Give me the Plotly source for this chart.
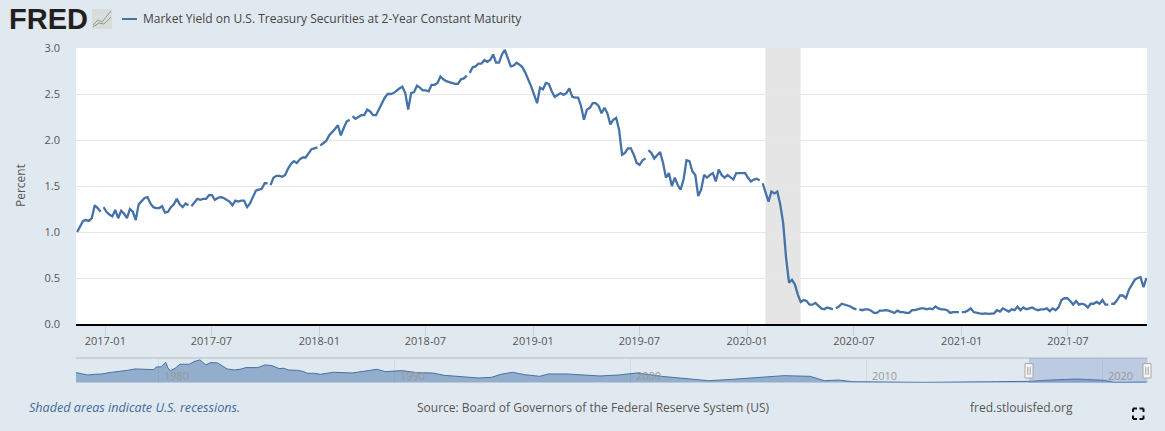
import pandas as pd
import plotly.graph_objects as go

W, H = 1165, 431
BG = "#e1e9f0"
BLUE = "#4572a7"
FONT = "Open Sans"

series_name = "Market Yield on U.S. Treasury Securities at 2-Year Constant Maturity"
y_label = "Percent"
x_ticks = ["2017-01", "2017-07", "2018-01", "2018-07", "2019-01",
           "2019-07", "2020-01", "2020-07", "2021-01", "2021-07"]
y_ticks = [0.0, 0.5, 1.0, 1.5, 2.0, 2.5, 3.0]
recession = ["2020-02-01", "2020-04-01"]
nav_decades = [1980, 1990, 2000, 2010, 2020]
first_date, last_date = "2016-11-14", "2021-11-12"

# None marks a short break in the published series (it takes no time slot of its own)
yield_2016_17 = [
    1.00, 1.06, 1.12, 1.13, 1.12, 1.15, 1.29, 1.26, 1.22, None, 1.27, 1.22, 1.19, 1.17, 1.24, 1.15, 1.23,
    1.20, 1.15, 1.25, 1.22, 1.13, 1.30, 1.33, 1.37, 1.38, 1.31, 1.27, 1.26, 1.26, 1.28, 1.21, 1.22,
    1.27, 1.30, 1.36, 1.30, 1.27, 1.31, 1.29, None, 1.28, 1.32, 1.36, 1.35, 1.36, 1.36, 1.40, 1.40, 1.35,
    1.37, 1.38, 1.37, 1.35, 1.33, 1.29, 1.34, 1.33, 1.34, 1.34, 1.27, 1.31, 1.38, 1.45, 1.46, 1.47,
    1.53,
]
yield_2017_18 = [
    1.53, None, 1.51, 1.59, 1.61, 1.61, 1.60, 1.62, 1.69, 1.74, 1.77, 1.75, 1.79, 1.81, 1.81, 1.85, 1.90,
    1.91, 1.92, None, 1.94, 1.97, 1.99, 2.05, 2.08, 2.12, 2.16, 2.05, 2.13, 2.20, 2.22, None, 2.26, 2.23, 2.25,
    2.27, 2.27, 2.33, 2.31, 2.27, 2.27, 2.33, 2.40, 2.46, 2.50, 2.50, 2.51, 2.54, 2.56, 2.58, 2.51,
    2.33, 2.51, 2.52, 2.59, 2.57, 2.54, 2.54, 2.53, 2.60, 2.60, 2.62, 2.69, 2.66, 2.64, 2.63,
]
yield_2018_19 = [
    2.62, 2.61, 2.61, 2.66, 2.67, 2.70, None, 2.73, 2.79, 2.80, 2.83, 2.83, 2.87, 2.85, 2.87, 2.93, 2.84,
    2.84, 2.93, 2.98, 2.88, 2.80, 2.81, 2.84, 2.82, 2.79, 2.73, 2.66, 2.58, 2.49, 2.40, 2.57, 2.55,
    2.62, 2.61, 2.53, 2.47, 2.49, 2.51, 2.49, 2.51, 2.56, 2.47, 2.46, 2.46, 2.37, 2.22, 2.33, 2.35,
    2.40, 2.40, 2.37, 2.29, 2.35, 2.29, 2.17, 2.22, 2.24, 2.11, 1.84, 1.86, 1.91,
]
yield_2019_20 = [
    1.91, 1.84, 1.75, 1.73, 1.78, 1.80, None, 1.89, 1.86, 1.80, 1.84, 1.87, 1.75, 1.59, 1.64, 1.50, 1.59,
    1.51, 1.46, 1.57, 1.78, 1.77, 1.66, 1.62, 1.39, 1.46, 1.62, 1.59, 1.62, 1.64, 1.55, 1.68, 1.62,
    1.59, 1.62, 1.59, 1.57, 1.64, 1.64, 1.64, 1.64, 1.59, 1.55, 1.57, 1.58, 1.56, None, 1.53, 1.44, 1.33,
    1.44, 1.42, 1.44,
]
yield_2020 = [
    1.30, 1.10, 0.72, 0.45, 0.48, 0.43, 0.32, 0.24, 0.26, 0.25, 0.21, 0.21, 0.23, 0.20, 0.17, 0.16,
    0.18, 0.17, 0.16, None, 0.17, 0.19, 0.22, 0.21, 0.20, 0.19, 0.17, 0.16, None, 0.16, 0.15, 0.16, 0.16,
    0.145, 0.12, 0.12, 0.145, 0.145, 0.15, 0.145, 0.13, 0.12, 0.145, 0.13, 0.13, 0.12, 0.12, 0.15,
    0.15, 0.16, 0.17, 0.17, 0.16, 0.17, 0.16, 0.19, 0.17, 0.16, 0.16, 0.15, 0.12, 0.13, 0.13, 0.13, None,
    0.13, 0.13, 0.145, 0.17, 0.13, 0.12, 0.116, 0.11, 0.116, 0.11,
]
yield_2021 = [
    0.116, 0.116, 0.15, 0.135, 0.17, 0.15, 0.135, 0.16, 0.15, 0.19, 0.15, 0.18, 0.16, 0.17, 0.18, 0.16,
    0.15, 0.16, 0.16, 0.17, 0.14, 0.17, 0.15, 0.18, 0.26, 0.28, 0.28, 0.25, 0.21, 0.25, 0.21, 0.22,
    0.21, 0.18, 0.22, 0.22, 0.24, 0.22, 0.26, 0.21, 0.21, None, 0.22, 0.22, 0.26, 0.31, 0.31, 0.28, 0.37,
    0.43, 0.48, 0.50, 0.51, 0.40, 0.50,
]
yields = yield_2016_17 + yield_2017_18 + yield_2018_19 + yield_2019_20 + yield_2020 + yield_2021
slots = pd.date_range(first_date, last_date, periods=sum(v is not None for v in yields))
dates = []
slot_index = 0
for v in yields:
    if v is None:
        dates.append(slots[slot_index - 1])
    else:
        dates.append(slots[slot_index])
        slot_index += 1

nav_years = [
    1976.5, 1976.7, 1977.0, 1977.3, 1977.6, 1977.9, 1978.2, 1978.4, 1978.7, 1979.0, 1979.3, 1979.6,
    1979.8, 1979.9, 1980.1, 1980.3, 1980.4, 1980.5, 1980.7, 1980.9, 1981.1, 1981.3, 1981.5, 1981.75,
    1982.0, 1982.2, 1982.5, 1982.7, 1982.9, 1983.2, 1983.45, 1983.7, 1984.0, 1984.2, 1984.5, 1984.8,
    1985.1, 1985.3, 1985.5, 1985.85, 1986.1, 1986.3, 1986.6, 1986.85, 1987.4, 1987.9, 1988.2, 1988.7,
    1989.25, 1989.6, 1990.3, 1990.95, 1991.6, 1992.1, 1992.5, 1992.9, 1993.55, 1994.1, 1994.5, 1995.0,
    1995.5, 1996.15, 1996.5, 1997.3, 1998.1, 1998.7, 1999.5, 2000.25, 2001.3, 2002.4, 2003.3, 2004.3,
    2005.3, 2006.5, 2007.6, 2008.2, 2008.8, 2009.4, 2010.9, 2012.4, 2015.5, 2016.9, 2017.8, 2018.9,
    2020.05, 2020.5, 2021.87,
]
nav_values = [
    7.5, 6.75, 5.75, 6.25, 6.5, 7.5, 8.0, 8.5, 9.25, 10.25, 10.0, 9.5,
    9.75, 11.75, 11.75, 15.25, 10.75, 9.0, 10.75, 13.75, 13.75, 13.75, 15.75, 17.0,
    13.25, 15.0, 14.75, 12.75, 10.25, 9.5, 10.0, 11.25, 11.0, 11.25, 13.25, 12.75,
    10.5, 10.75, 9.5, 9.25, 8.5, 7.0, 7.0, 6.25, 7.75, 7.75, 7.25, 8.5,
    10.0, 8.25, 9.0, 7.5, 7.25, 5.5, 5.0, 4.5, 3.5, 4.0, 6.25, 7.75,
    6.0, 4.75, 6.5, 6.5, 5.75, 5.0, 5.75, 7.25, 4.75, 3.25, 1.5, 2.5,
    4.0, 5.25, 4.75, 1.5, 2.0, 0.75, 0.5, 0.25, 0.75, 1.0, 2.0, 2.75,
    1.75, 0.25, 0.5,
]


def px(x):
    return x / W


def py(y):
    return 1 - y / H


def rect(x0, y0, x1, y1, fill, line="rgba(0,0,0,0)", lw=1, layer="above"):
    return dict(type="rect", xref="paper", yref="paper", x0=px(x0), x1=px(x1), y0=py(y0), y1=py(y1),
                fillcolor=fill, line=dict(color=line, width=lw), layer=layer)


def seg(x0, y0, x1, y1, color, lw=1):
    return dict(type="line", xref="paper", yref="paper", x0=px(x0), x1=px(x1), y0=py(y0), y1=py(y1),
                line=dict(color=color, width=lw), layer="above")


def text(x, y, s, size=12, color="#555555", anchor="left", **kw):
    return dict(xref="paper", yref="paper", x=px(x), y=py(y), text=s, showarrow=False,
                xanchor=anchor, yanchor="middle", font=dict(family=kw.pop("family", FONT), size=size, color=color), **kw)


fig = go.Figure()
fig.add_trace(go.Scatter(x=dates, y=yields, mode="lines", line=dict(color=BLUE, width=2.3),
                         connectgaps=False, hoverinfo="skip", xaxis="x", yaxis="y", showlegend=False))
fig.add_trace(go.Scatter(x=nav_years, y=nav_values, mode="lines", fill="tozeroy", fillcolor="rgba(69,114,167,0.5)",
                         line=dict(color=BLUE, width=1), hoverinfo="skip", xaxis="x2", yaxis="y2", showlegend=False))

shapes = [
    dict(type="rect", xref="x", yref="y domain", x0=recession[0], x1=recession[1], y0=0, y1=1,
         fillcolor="#e5e5e5", line=dict(width=0), layer="below"),
    seg(76, 358, 1147, 358, "#c4c8cc", 1.5),
    rect(1029, 358, 1147, 383, "rgba(102,133,194,0.3)"),
    seg(1147, 358, 1147, 383, "#c4c8cc", 1),
    rect(92, 9, 112, 29, "#d9dcd8"),
]
for hx in (1029, 1147):
    shapes += [rect(hx - 4, 363.5, hx + 4, 378, "#f4f4f4", "#a8a8a8", 1),
               seg(hx - 1.2, 367, hx - 1.2, 375, "#a0a0a0", 1),
               seg(hx + 1.2, 367, hx + 1.2, 375, "#a0a0a0", 1)]
for a, b, c, d, e, f in [(1133, 412, 1133, 408.5, 1137, 408.5), (1139.5, 408.5, 1143.5, 408.5, 1143.5, 412),
                         (1133, 415.5, 1133, 419, 1137, 419), (1139.5, 419, 1143.5, 419, 1143.5, 415.5)]:
    shapes += [seg(a, b, c, d, "#111111", 2), seg(c, d, e, f, "#111111", 2)]
for (x0, y0, x1, y1, col) in [(93, 25, 98, 20, "#7f9ab8"), (98, 20, 102, 22, "#7f9ab8"), (102, 22, 111, 11, "#7f9ab8"),
                              (93, 27, 99, 23, "#8aa365"), (99, 23, 104, 24, "#8aa365"), (104, 24, 111, 17, "#8aa365")]:
    shapes.append(seg(x0, y0, x1, y1, col, 1))
shapes.append(seg(122, 19, 137, 19, BLUE, 2))

annotations = [
    text(7, 19, "<b>FRED</b>", 29, "#231f20", family="Liberation Sans, Arial, sans-serif"),
    text(141, 19, series_name, 12, "#444444"),
    text(20, 186, y_label, 12, "#555555", anchor="center", textangle=-90),
    text(27, 407, "<i>Shaded areas indicate U.S. recessions.</i>", 12.6, "#3f6a9f"),
    text(593, 407, "Source: Board of Governors of the Federal Reserve System (US)", 12, "#555555", anchor="center"),
    text(1021, 407, "fred.stlouisfed.org", 12, "#555555", anchor="center"),
]
for d in nav_decades:
    annotations.append(dict(xref="x2", yref="paper", x=d, y=py(375), text=str(d), showarrow=False,
                            xanchor="left", yanchor="middle", xshift=3,
                            font=dict(family=FONT, size=11, color="#999999")))

fig.update_layout(
    width=W, height=H, autosize=False,
    margin=dict(l=0, r=0, t=0, b=0),
    paper_bgcolor=BG, plot_bgcolor="#ffffff",
    showlegend=False, shapes=shapes, annotations=annotations,
    font=dict(family=FONT, size=11, color="#555555"),
    xaxis=dict(domain=[px(76), px(1147)], anchor="y", type="date", range=["2016-11-12", "2021-11-13"],
               automargin=False,
               tickmode="array", tickvals=[t + "-01" for t in x_ticks], ticktext=x_ticks,
               ticks="outside", ticklen=10, tickcolor="#c0d0e0", tickwidth=1, ticklabelstandoff=-4,
               showline=True, linecolor="#000000", linewidth=2, showgrid=False, zeroline=False,
               tickfont=dict(family=FONT, size=11, color="#555555")),
    yaxis=dict(domain=[py(324), py(48)], anchor="x", range=[0, 3], tickmode="array", tickvals=y_ticks,
               automargin=False,
               ticktext=[f"{v:.1f}" for v in y_ticks], showgrid=True, gridcolor="#e6e6e6", gridwidth=1,
               zeroline=False, showline=False, ticks="", ticklabelstandoff=15,
               tickfont=dict(family=FONT, size=11, color="#555555")),
    xaxis2=dict(domain=[px(76), px(1147)], anchor="y2", range=[1976.5, 2021.87], tickmode="array",
                automargin=False,
                tickvals=nav_decades, ticks="", showticklabels=False, showgrid=True, gridcolor="#d3dae1",
                gridwidth=1, zeroline=False, showline=False),
    yaxis2=dict(domain=[py(382.7), py(358)], anchor="x2", range=[0, 18.4], showticklabels=False, ticks="",
                automargin=False,
                showgrid=False, zeroline=False, showline=False),
)
fig.add_shape(type="rect", xref="x2 domain", yref="y2 domain", x0=0, x1=1, y0=0, y1=1,
              fillcolor=BG, line=dict(width=0), layer="below")

fig.write_html("out.html", config=dict(displayModeBar=False),
               post_script="document.body.style.margin='0';document.body.style.overflow='hidden';")
